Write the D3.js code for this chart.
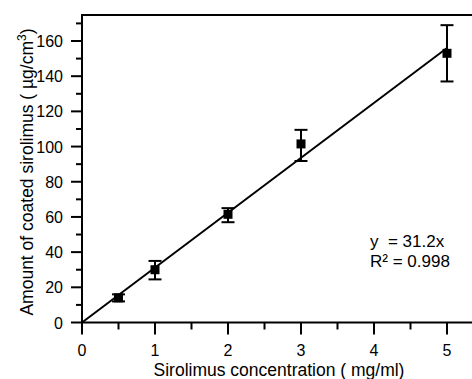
<!DOCTYPE html>
<html>
<head>
<meta charset="utf-8">
<script src="https://cdn.jsdelivr.net/npm/d3@7"></script>
<style>
    body { margin: 0; background: #fff; }
    svg { display: block; font-family: "Liberation Sans", Arial, sans-serif; }
</style>
</head>
<body>
<div id="chart-container"></div>
<script>
// Measured data (concentration mg/ml vs coated amount ug/cm2)
const concentrations = [0.5, 1, 2, 3, 5];
const amounts = [14, 30, 61.5, 101.5, 153];
const errLow = [12, 24.5, 57, 91.8, 137];
const errHigh = [16, 35, 65, 109.5, 169];

// Fit line y = 31.2x
const slope = 31.2;
const fitRange = [0, 5];

const xTicks = [0, 1, 2, 3, 4, 5];
const xMinorTicks = [0.5, 1.5, 2.5, 3.5, 4.5];
const yTicks = [0, 20, 40, 60, 80, 100, 120, 140, 160];
const yMinorTicks = [10, 30, 50, 70, 90, 110, 130, 150, 170];

const width = 472, height = 379;
const margin = { top: 15, left: 82, bottom: 322.5 };

const svg = d3.select('#chart-container')
    .append('svg')
    .attr('width', width)
    .attr('height', height);

const xScale = d3.scaleLinear()
    .domain([0, 5])
    .range([margin.left, 447]);

const yScale = d3.scaleLinear()
    .domain([0, 160])
    .range([margin.bottom, 41]);

const xEnd = width;
const yTop = margin.top;

// frame line on top
svg.append('line')
    .attr('x1', margin.left).attr('x2', xEnd)
    .attr('y1', yTop).attr('y2', yTop)
    .attr('stroke', '#000').attr('stroke-width', 2);

// X axis
const xAxis = svg.append('g')
    .attr('transform', `translate(0,${margin.bottom})`);
xAxis.append('line')
    .attr('x1', margin.left - 1).attr('x2', xEnd)
    .attr('stroke', '#000').attr('stroke-width', 2);
xAxis.selectAll('.major')
    .data(xTicks)
    .join('line')
    .attr('x1', d => xScale(d)).attr('x2', d => xScale(d))
    .attr('y1', 0).attr('y2', 12)
    .attr('stroke', '#000').attr('stroke-width', 2);
xAxis.selectAll('.minor')
    .data(xMinorTicks)
    .join('line')
    .attr('x1', d => xScale(d)).attr('x2', d => xScale(d))
    .attr('y1', 0).attr('y2', 7)
    .attr('stroke', '#000').attr('stroke-width', 2);
xAxis.selectAll('text')
    .data(xTicks)
    .join('text')
    .attr('x', d => xScale(d))
    .attr('y', 33)
    .attr('text-anchor', 'middle')
    .attr('font-size', '16px')
    .text(d => d);

// Y axis
const yAxis = svg.append('g')
    .attr('transform', `translate(${margin.left},0)`);
yAxis.append('line')
    .attr('y1', yTop - 1).attr('y2', margin.bottom + 1)
    .attr('stroke', '#000').attr('stroke-width', 2);
yAxis.selectAll('.major')
    .data(yTicks)
    .join('line')
    .attr('y1', d => yScale(d)).attr('y2', d => yScale(d))
    .attr('x1', 0).attr('x2', -11)
    .attr('stroke', '#000').attr('stroke-width', 2);
yAxis.selectAll('.minor')
    .data(yMinorTicks)
    .join('line')
    .attr('y1', d => yScale(d)).attr('y2', d => yScale(d))
    .attr('x1', 0).attr('x2', -6)
    .attr('stroke', '#000').attr('stroke-width', 2);
yAxis.selectAll('text')
    .data(yTicks)
    .join('text')
    .attr('x', -19)
    .attr('y', d => yScale(d) + 6)
    .attr('text-anchor', 'end')
    .attr('font-size', '16px')
    .text(d => d);

// Axis titles
svg.append('text')
    .attr('x', 279)
    .attr('y', 376)
    .attr('text-anchor', 'middle')
    .attr('font-size', '17.5px')
    .text('Sirolimus concentration ( mg/ml)');

const yTitle = svg.append('text')
    .attr('transform', 'translate(33,172) rotate(-90)')
    .attr('text-anchor', 'middle')
    .attr('font-size', '17.5px');
yTitle.append('tspan').text('Amount of coated sirolimus ( µg/cm');
yTitle.append('tspan').attr('dy', -7).attr('font-size', '12px').text('3');
yTitle.append('tspan').attr('dy', 7).text(')');

// Fit line
const line = d3.line()
    .x(d => xScale(d))
    .y(d => yScale(slope * d));
svg.append('path')
    .datum(fitRange)
    .attr('fill', 'none')
    .attr('stroke', '#000')
    .attr('stroke-width', 2)
    .attr('d', line);

// Error bars
const points = concentrations.map((c, i) => ({ x: c, y: amounts[i], lo: errLow[i], hi: errHigh[i] }));
const eb = svg.append('g').attr('stroke', '#000').attr('stroke-width', 2);
eb.selectAll('.v')
    .data(points)
    .join('line')
    .attr('x1', d => xScale(d.x)).attr('x2', d => xScale(d.x))
    .attr('y1', d => yScale(d.lo)).attr('y2', d => yScale(d.hi));
eb.selectAll('.capHi')
    .data(points)
    .join('line')
    .attr('x1', d => xScale(d.x) - 6.5).attr('x2', d => xScale(d.x) + 6.5)
    .attr('y1', d => yScale(d.hi)).attr('y2', d => yScale(d.hi));
eb.selectAll('.capLo')
    .data(points)
    .join('line')
    .attr('x1', d => xScale(d.x) - 6.5).attr('x2', d => xScale(d.x) + 6.5)
    .attr('y1', d => yScale(d.lo)).attr('y2', d => yScale(d.lo));

// Square markers
svg.selectAll('rect.pt')
    .data(points)
    .join('rect')
    .attr('class', 'pt')
    .attr('x', d => xScale(d.x) - 4.5)
    .attr('y', d => yScale(d.y) - 4.5)
    .attr('width', 9)
    .attr('height', 9)
    .attr('fill', '#000');

// Equation annotation
svg.append('text')
    .attr('x', 370).attr('y', 247)
    .attr('font-size', '17px')
    .style('white-space', 'pre')
    .text('y  = 31.2x');
svg.append('text')
    .attr('x', 370).attr('y', 267)
    .attr('font-size', '17px')
    .text('R² = 0.998');
</script>
</body>
</html>
